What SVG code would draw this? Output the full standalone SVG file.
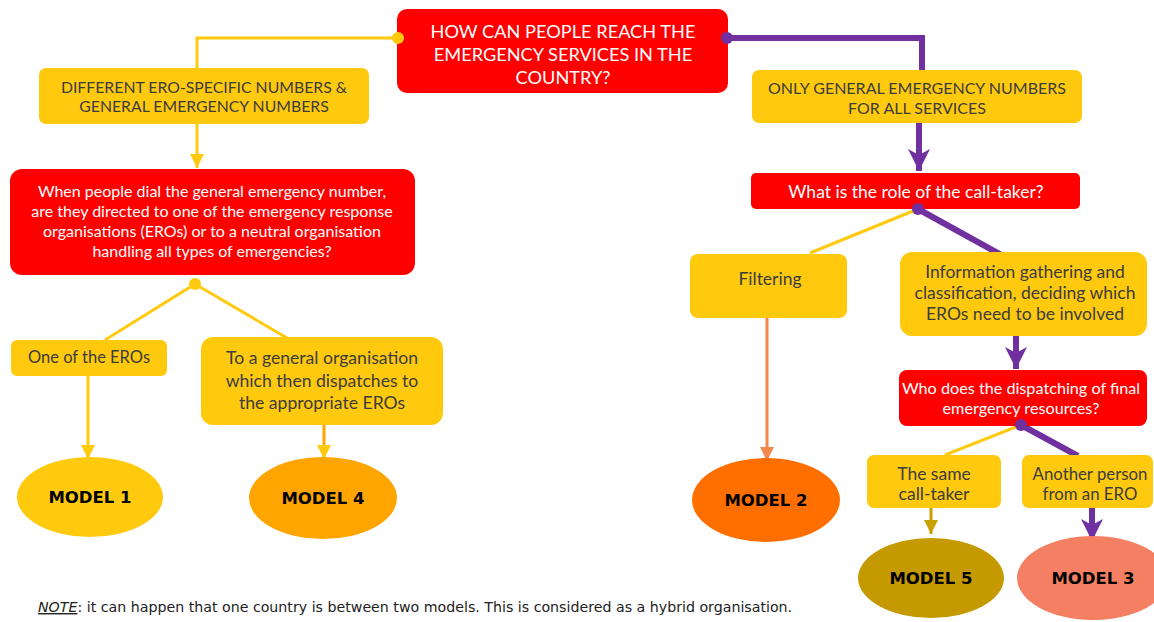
<svg xmlns="http://www.w3.org/2000/svg" width="1154" height="622" viewBox="0 0 1154 622">
<defs>
<style>
.red{fill:#ff0000}
.yel{fill:#ffc90e}
.tw{font-family:Lato,"Open Sans","Liberation Sans",sans-serif;fill:#ffffff;text-anchor:middle}
.td{font-family:Lato,"Open Sans","Liberation Sans",sans-serif;fill:#3c3c3c;text-anchor:middle}
.tm{font-family:"DejaVu Sans","Liberation Sans",sans-serif;font-weight:bold;fill:#000;text-anchor:middle;font-size:16.5px}
.cy{stroke:#ffc90e;stroke-width:3;fill:none}
.cp{stroke:#7030a0;stroke-width:6;fill:none}
</style>
<marker id="ay" markerUnits="userSpaceOnUse" viewBox="0 0 14 14" markerWidth="14" markerHeight="14" refX="14" refY="7" orient="auto"><path d="M0,0 L14,7 L0,14 z" fill="#ffc90e"/></marker>
<marker id="ao" markerUnits="userSpaceOnUse" viewBox="0 0 14 14" markerWidth="14" markerHeight="14" refX="14" refY="7" orient="auto"><path d="M0,0 L14,7 L0,14 z" fill="#f4874b"/></marker>
<marker id="ag" markerUnits="userSpaceOnUse" viewBox="0 0 14 14" markerWidth="14" markerHeight="14" refX="14" refY="7" orient="auto"><path d="M0,0 L14,7 L0,14 z" fill="#c9a000"/></marker>
<marker id="ap" markerUnits="userSpaceOnUse" viewBox="0 0 22 22" markerWidth="22" markerHeight="22" refX="22" refY="11" orient="auto"><path d="M0,0 L22,11 L0,22 L6,11 z" fill="#7030a0"/></marker>
</defs>
<rect width="1154" height="622" fill="#ffffff"/>

<g id="connectors">
<polyline class="cy" points="398,38 197,38 197,68"/>
<line class="cy" x1="197" y1="124" x2="197" y2="168" marker-end="url(#ay)"/>
<line class="cy" x1="195" y1="284" x2="105" y2="340"/>
<line class="cy" x1="195" y1="284" x2="287" y2="338"/>
<line class="cy" x1="88" y1="376" x2="88" y2="459" marker-end="url(#ay)"/>
<line x1="324" y1="425" x2="324" y2="459" stroke="#ffa500" stroke-width="3" marker-end="url(#ay)"/>
<polyline class="cp" points="727,38 922,38 922,70"/>
<line class="cp" x1="919" y1="123" x2="919" y2="171" marker-end="url(#ap)"/>
<line class="cy" x1="918" y1="209" x2="810" y2="253"/>
<line class="cp" x1="918" y1="209" x2="1003" y2="256"/>
<line x1="767" y1="318" x2="767" y2="461" stroke="#f4874b" stroke-width="3" marker-end="url(#ao)"/>
<line class="cp" x1="1016" y1="336" x2="1016" y2="369" marker-end="url(#ap)"/>
<line class="cy" x1="1021" y1="425" x2="945" y2="455"/>
<line class="cp" x1="1021" y1="425" x2="1078" y2="456"/>
<line x1="931" y1="508" x2="931" y2="534" stroke="#c9a000" stroke-width="3" marker-end="url(#ag)"/>
<line class="cp" x1="1092" y1="508" x2="1092" y2="541" marker-end="url(#ap)"/>
</g>

<g id="q-main">
<rect class="red" x="397" y="9" width="331" height="84" rx="10"/>
<text class="tw" font-size="18.2"><tspan x="563" y="38">HOW CAN PEOPLE REACH THE</tspan><tspan x="563" y="61">EMERGENCY SERVICES IN THE</tspan><tspan x="563" y="84">COUNTRY?</tspan></text>
</g>
<g id="n-different">
<rect class="yel" x="39" y="68" width="330" height="56" rx="7"/>
<text class="td" font-size="15.8"><tspan x="204" y="93">DIFFERENT ERO-SPECIFIC NUMBERS &amp;</tspan><tspan x="204" y="112">GENERAL EMERGENCY NUMBERS</tspan></text>
</g>
<g id="q-dial">
<rect class="red" x="10" y="169" width="405" height="106" rx="12"/>
<text class="tw" font-size="16"><tspan x="212" y="197">When people dial the general emergency number,</tspan><tspan x="212" y="217">are they directed to one of the emergency response</tspan><tspan x="212" y="237">organisations (EROs) or to a neutral organisation</tspan><tspan x="212" y="257">handling all types of emergencies?</tspan></text>
</g>
<g id="n-one-ero">
<rect class="yel" x="11" y="340" width="156" height="36" rx="6"/>
<text class="td" font-size="16.5" x="89" y="363">One of the EROs</text>
</g>
<g id="n-general-org">
<rect class="yel" x="201" y="337" width="242" height="88" rx="12"/>
<text class="td" font-size="17.6"><tspan x="322" y="364">To a general organisation</tspan><tspan x="322" y="387">which then dispatches to</tspan><tspan x="322" y="409">the appropriate EROs</tspan></text>
</g>
<g id="model1">
<ellipse cx="90" cy="497" rx="73" ry="40" fill="#ffc90e"/>
<text class="tm" x="90" y="503">MODEL 1</text>
</g>
<g id="model4">
<ellipse cx="323" cy="498" rx="74" ry="41" fill="#ffa500"/>
<text class="tm" x="323" y="504">MODEL 4</text>
</g>
<g id="n-only-general">
<rect class="yel" x="752" y="70" width="330" height="53" rx="7"/>
<text class="td" font-size="16"><tspan x="917" y="94">ONLY GENERAL EMERGENCY NUMBERS</tspan><tspan x="917" y="114">FOR ALL SERVICES</tspan></text>
</g>
<g id="q-role">
<rect class="red" x="751" y="173" width="329" height="36" rx="5"/>
<text class="tw" font-size="17.5" x="916" y="198">What is the role of the call-taker?</text>
</g>
<g id="n-filtering">
<rect class="yel" x="690" y="254" width="157" height="64" rx="8"/>
<text class="td" font-size="17.5" x="770" y="285">Filtering</text>
</g>
<g id="n-info">
<rect class="yel" x="900" y="252" width="247" height="84" rx="12"/>
<text class="td" font-size="17.5"><tspan x="1025" y="278">Information gathering and</tspan><tspan x="1025" y="299">classification, deciding which</tspan><tspan x="1025" y="320">EROs need to be involved</tspan></text>
</g>
<g id="model2">
<ellipse cx="766" cy="500" rx="74" ry="42" fill="#ff6f00"/>
<text class="tm" x="766" y="506">MODEL 2</text>
</g>
<g id="q-dispatch">
<rect class="red" x="899" y="370" width="248" height="56" rx="8"/>
<text class="tw" font-size="16.2"><tspan x="1021" y="394">Who does the dispatching of final</tspan><tspan x="1021" y="414">emergency resources?</tspan></text>
</g>
<g id="n-same">
<rect class="yel" x="867" y="455" width="134" height="53" rx="7"/>
<text class="td" font-size="17.5"><tspan x="934" y="480">The same</tspan><tspan x="934" y="500">call-taker</tspan></text>
</g>
<g id="n-another">
<rect class="yel" x="1022" y="455" width="131" height="53" rx="7"/>
<text class="td" font-size="16.8"><tspan x="1090" y="480">Another person</tspan><tspan x="1090" y="500">from an ERO</tspan></text>
</g>
<g id="model5">
<ellipse cx="931" cy="578" rx="73" ry="40" fill="#c49a00"/>
<text class="tm" x="931" y="584">MODEL 5</text>
</g>
<g id="model3">
<ellipse cx="1093" cy="578" rx="76" ry="42" fill="#f47f62"/>
<text class="tm" x="1093" y="584">MODEL 3</text>
</g>
<g id="junctions">
<circle cx="398" cy="38" r="6" fill="#ffc90e"/>
<circle cx="727" cy="38" r="6" fill="#7030a0"/>
<circle cx="195" cy="284" r="6" fill="#ffc90e"/>
<circle cx="918" cy="209" r="6" fill="#7030a0"/>
<circle cx="1021" cy="425" r="6" fill="#7030a0"/>
</g>
<g id="note">
<text font-family="'DejaVu Sans','Liberation Sans',sans-serif" font-size="14.2" fill="#222" x="38" y="612"><tspan font-style="italic" text-decoration="underline">NOTE</tspan>: it can happen that one country is between two models. This is considered as a hybrid organisation.</text>
</g>
</svg>
